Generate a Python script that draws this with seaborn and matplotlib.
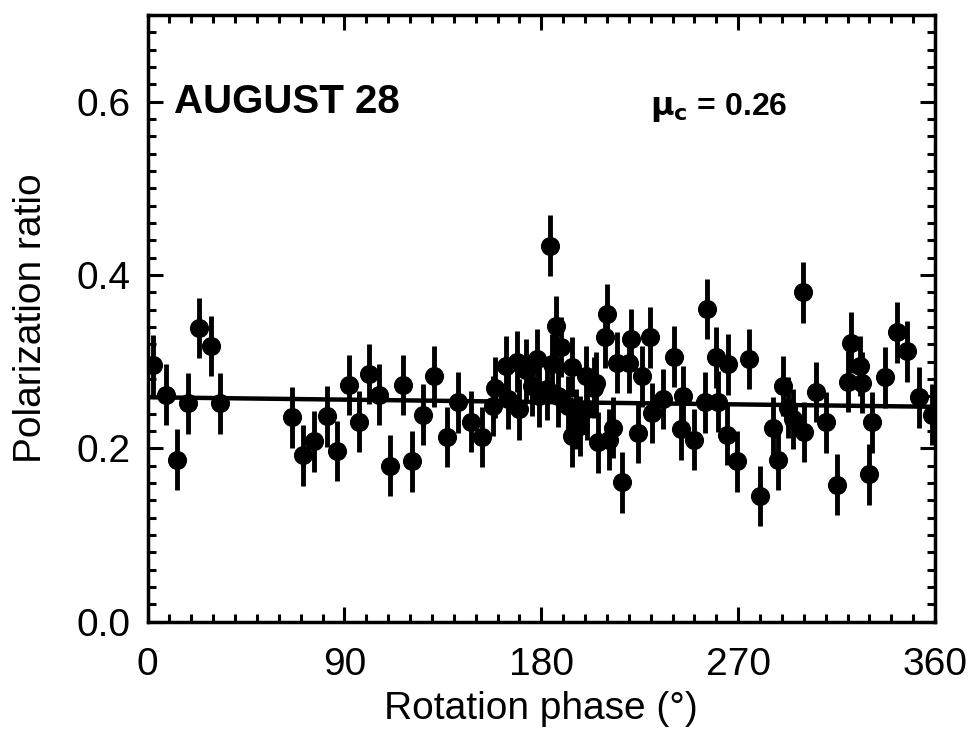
import matplotlib
matplotlib.use("Agg")
import matplotlib.pyplot as plt
import seaborn as sns
import pandas as pd
from matplotlib.ticker import MultipleLocator

phase = [2.3, 8.2, 13.3, 18.3, 23.3, 28.8, 32.9, 65.9, 70.9, 75.9, 81.9, 86.5,
         92.0, 96.5, 101.0, 106.0, 111.0, 116.6, 121.0, 126.0, 131.0, 136.7,
         142.0, 148.0, 153.0, 157.8, 158.7, 164.0, 164.7, 168.8, 170.0, 173.0,
         175.6, 178.0, 179.0, 182.4, 184.0, 185.0, 186.6, 187.5, 189.0, 192.0,
         194.0, 194.0, 196.0, 197.6, 200.6, 201.0, 204.0, 205.0, 206.0, 209.0,
         210.0, 211.0, 212.6, 214.5, 217.0, 220.0, 221.0, 224.0, 226.0, 229.6,
         230.5, 235.6, 240.6, 244.0, 244.7, 250.0, 254.8, 255.7, 260.0, 260.7,
         264.8, 265.3, 269.4, 275.0, 280.0, 286.0, 288.0, 290.3, 292.7, 295.0,
         299.6, 300.0, 305.5, 310.0, 315.0, 320.0, 321.5, 325.7, 326.5, 330.0,
         331.0, 337.0, 342.5, 347.0, 352.7, 358.6]
ratio = [0.296, 0.262, 0.187, 0.252, 0.339, 0.318, 0.252, 0.236, 0.192, 0.208,
         0.237, 0.197, 0.273, 0.231, 0.286, 0.262, 0.180, 0.273, 0.185, 0.239,
         0.283, 0.213, 0.253, 0.231, 0.213, 0.249, 0.270, 0.295, 0.257, 0.300,
         0.245, 0.291, 0.272, 0.303, 0.260, 0.268, 0.434, 0.297, 0.341, 0.260,
         0.317, 0.249, 0.294, 0.214, 0.234, 0.226, 0.283, 0.245, 0.270, 0.276,
         0.207, 0.328, 0.355, 0.210, 0.224, 0.299, 0.161, 0.299, 0.326, 0.218,
         0.283, 0.328, 0.241, 0.257, 0.306, 0.222, 0.260, 0.210, 0.253, 0.361,
         0.305, 0.254, 0.216, 0.297, 0.185, 0.303, 0.145, 0.224, 0.187, 0.272,
         0.247, 0.234, 0.380, 0.219, 0.265, 0.230, 0.158, 0.277, 0.322, 0.295,
         0.276, 0.170, 0.230, 0.282, 0.334, 0.312, 0.259, 0.239]
ratio_err = 0.035

fit_phase = [0, 360]
fit_ratio = [0.259, 0.248]

x_ticks = [0, 90, 180, 270, 360]
y_ticks = [0.0, 0.2, 0.4, 0.6]

sns.set_style("ticks")
plt.rcParams['font.family'] = ['Liberation Sans', 'DejaVu Sans']
plt.rcParams['text.color'] = 'black'
plt.rcParams['axes.labelcolor'] = 'black'
plt.rcParams['xtick.color'] = 'black'
plt.rcParams['ytick.color'] = 'black'

df = pd.DataFrame({"phase": phase, "ratio": ratio})
fit_df = pd.DataFrame({"phase": fit_phase, "ratio": fit_ratio})

fig = plt.figure(figsize=(9.71, 7.5), dpi=100)
ax = fig.add_axes([0.152, 0.171, 0.811, 0.809])

ax.errorbar(df["phase"], df["ratio"], yerr=ratio_err, fmt="none",
            ecolor="black", elinewidth=3.5, capsize=0, zorder=2)
sns.scatterplot(data=df, x="phase", y="ratio", ax=ax, color="black",
                s=190, edgecolor="black", linewidth=0, zorder=3, legend=False)
sns.lineplot(data=fit_df, x="phase", y="ratio", ax=ax, color="black",
             linewidth=3.2, zorder=1)

ax.set_xlim(0, 360)
ax.set_ylim(0, 0.7)
ax.set_xticks(x_ticks)
ax.set_yticks(y_ticks)
ax.set_xticklabels([str(t) for t in x_ticks])
ax.set_yticklabels([f"{t:.1f}" for t in y_ticks])
ax.xaxis.set_minor_locator(MultipleLocator(10))
ax.yaxis.set_minor_locator(MultipleLocator(0.02))
ax.tick_params(which="both", direction="in", top=True, right=True,
               width=2.2, color="black", labelcolor="black")
ax.tick_params(which="major", length=11, labelsize=28)
ax.tick_params(axis="y", which="major", pad=12)
ax.tick_params(axis="x", which="major", pad=18)
ax.tick_params(which="minor", length=6)
for sp in ax.spines.values():
    sp.set_linewidth(2.5)
    sp.set_color("black")

ax.set_xlabel("Rotation phase (°)", fontsize=28, labelpad=6)
ax.set_ylabel("Polarization ratio", fontsize=28, labelpad=20)

ax.text(0.034, 0.857, "AUGUST 28", transform=ax.transAxes, fontsize=29,
        fontweight="bold", va="center", ha="left")
ax.text(0.638, 0.847, r"$\mathbf{\mu_c}$ = 0.26", transform=ax.transAxes,
        fontsize=23, fontweight="bold", va="center", ha="left")

fig.savefig("out.png", dpi=100)
